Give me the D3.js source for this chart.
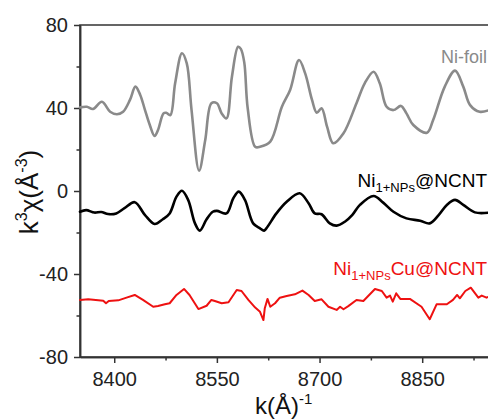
<!DOCTYPE html>
<html>
<head>
<meta charset="utf-8">
<script src="https://cdn.jsdelivr.net/npm/d3@7"></script>
<style>
  html, body { margin: 0; padding: 0; background: #fff; }
  svg { display: block; font-family: "Liberation Sans", Arial, sans-serif; }
</style>
</head>
<body>
<svg id="chart" width="488" height="419"></svg>
<script>
// ---- data (k values on x, k^3 chi on y) ----
const niFoilK = [8350,8360,8369,8382,8394,8404,8413,8423,8431,8438,8445,8452,8459,8464,8472,8476,8482,8489,8499,8506,8513,8524,8533,8542,8550,8557,8564,8572,8581,8585,8590,8595,8606,8613,8628,8645,8657,8670,8679,8689,8696,8703,8711,8720,8735,8754,8766,8779,8788,8798,8808,8819,8827,8837,8857,8866,8883,8898,8910,8920,8934,8948];
const niFoilV = [40.3,40.6,39.5,43,38.2,37,38.2,43.9,50.3,46.3,39,31.8,26.5,29.4,37.4,37.7,36.6,51.9,66.4,61.5,39,9.8,24.6,42.3,42.3,37.4,35,55.1,69.5,68.5,62,40,21.3,21.3,23.8,40.6,48.7,63.1,56.7,43.9,37.7,39.9,31,23,27.8,42.3,51.9,57.5,51.9,40.6,39,41,37.4,31.8,28.1,34.2,50.3,58,50.3,41.4,38.2,39];

const ncntK = [8350,8359,8371,8381,8391,8403,8415,8430,8445,8459,8471,8481,8491,8499,8508,8518,8525,8535,8544,8550,8564,8574,8582,8591,8603,8613,8619,8624,8637,8652,8671,8684,8693,8703,8715,8725,8737,8748,8759,8779,8793,8808,8827,8847,8861,8874,8886,8898,8910,8927,8948];
const ncntV = [-10,-9.2,-10.4,-10.1,-11.1,-10.8,-8.3,-5.4,-11.6,-15.9,-13.6,-10.8,-2.7,0.1,-4.3,-15.6,-19.1,-13.6,-10,-9.6,-10.8,-3.5,-0.3,-4.3,-15.6,-18,-19.1,-17.2,-10.8,-5.2,-1.1,-5.9,-10.8,-11.2,-15.6,-16.7,-14.8,-11.5,-6.7,-2.4,-5.6,-10,-13.2,-14.3,-15.6,-11.6,-6.7,-4.3,-6.7,-10.3,-10.4];

const cuK = [8350,8362,8384,8388,8392,8406,8418,8430,8442,8457,8464,8474,8481,8491,8502,8510,8523,8535,8542,8547,8557,8567,8579,8586,8596,8606,8613,8618,8620,8624,8628,8635,8642,8652,8664,8675,8684,8693,8703,8713,8725,8730,8735,8742,8754,8764,8781,8791,8798,8803,8807,8812,8818,8832,8849,8861,8871,8886,8895,8901,8905,8913,8921,8932,8937,8944,8950];
const cuV = [-52.5,-52.2,-52.9,-54.1,-53,-52.7,-51.4,-50.1,-52.5,-55.8,-55.4,-54.6,-54.1,-50.1,-47.2,-50.1,-56.9,-55.3,-52.5,-53,-54.1,-53.6,-47.7,-48.2,-52.5,-56.2,-58.2,-62.2,-56.5,-52,-55.8,-54.1,-51.4,-50.6,-49.8,-48,-50.1,-53,-52.2,-55.8,-57.3,-55.8,-57,-55.5,-52.5,-53,-47.2,-48.2,-51.4,-50.4,-53.3,-49.3,-52,-52,-55.8,-61.8,-54.6,-54.6,-52.5,-50.1,-51.7,-48.2,-46.6,-51.4,-50.4,-51.4,-50.5];

const yTicks = [-80, -40, 0, 40, 80];
const yMinor = [-60, -20, 20, 60];
const xTicks = [8400, 8550, 8700, 8850];
const xMinor = [8475, 8625, 8775, 8925];

// ---- layout ----
const svg = d3.select("#chart");
const mLeft = 80, mTop = 25, mBottom = 357;
const x = d3.scaleLinear().domain([8350, 8950]).range([mLeft, mLeft + 600 * 0.6844]);
const y = d3.scaleLinear().domain([-80, 80]).range([mBottom, mTop]);
const axisColor = "#333";
const plainFmt = d => String(d);

// frame (top + right borders)
svg.append("rect")
  .attr("x", x.range()[0]).attr("y", mTop)
  .attr("width", x.range()[1] - x.range()[0]).attr("height", mBottom - mTop)
  .attr("fill", "none").attr("stroke", axisColor).attr("stroke-width", 1.5);

function styleAxis(g) {
  g.select(".domain").attr("stroke", axisColor).attr("stroke-width", 1.5);
  g.selectAll(".tick line").attr("stroke", axisColor).attr("stroke-width", 1.5);
  g.selectAll(".tick text").attr("fill", "#222").attr("font-size", 20)
    .attr("font-family", "'Liberation Sans', Arial, sans-serif");
}

svg.append("g").attr("transform", `translate(${mLeft},0)`)
  .call(d3.axisLeft(y).tickValues(yTicks).tickFormat(plainFmt).tickSize(6).tickPadding(6).tickSizeOuter(0))
  .call(styleAxis);
svg.append("g").attr("transform", `translate(${mLeft},0)`)
  .call(d3.axisLeft(y).tickValues(yMinor).tickSize(3.5).tickFormat("").tickSizeOuter(0))
  .call(styleAxis);
svg.append("g").attr("transform", `translate(0,${mBottom})`)
  .call(d3.axisBottom(x).tickValues(xTicks).tickFormat(plainFmt).tickSize(6).tickPadding(9).tickSizeOuter(0))
  .call(styleAxis);
svg.append("g").attr("transform", `translate(0,${mBottom})`)
  .call(d3.axisBottom(x).tickValues(xMinor).tickSize(3.5).tickFormat("").tickSizeOuter(0))
  .call(styleAxis);

// ---- lines ----
function drawLine(ks, vs, color, width, curve) {
  const data = ks.map((k, i) => [k, vs[i]]);
  svg.append("path")
    .datum(data)
    .attr("fill", "none")
    .attr("stroke", color)
    .attr("stroke-width", width)
    .attr("stroke-linejoin", "round")
    .attr("stroke-linecap", "round")
    .attr("d", d3.line().x(d => x(d[0])).y(d => y(d[1])).curve(curve));
}
drawLine(niFoilK, niFoilV, "#8a8a8a", 2.6, d3.curveCatmullRom.alpha(0.5));
drawLine(ncntK, ncntV, "#000", 2.6, d3.curveCatmullRom.alpha(0.5));
drawLine(cuK, cuV, "#ee1111", 2, d3.curveLinear);

// ---- series labels ----
svg.append("text").attr("x", 487).attr("y", 63).attr("font-size", 18)
  .attr("text-anchor", "end").attr("fill", "#8a8a8a").text("Ni-foil");

const l2 = svg.append("text").attr("x", 487).attr("y", 187).attr("font-size", 19)
  .attr("text-anchor", "end").attr("fill", "#000");
l2.append("tspan").text("Ni");
l2.append("tspan").attr("font-size", 13).attr("dy", 5).text("1+NPs");
l2.append("tspan").attr("dy", -5).text("@NCNT");

const l3 = svg.append("text").attr("x", 487).attr("y", 275).attr("font-size", 19)
  .attr("text-anchor", "end").attr("fill", "#ee1111");
l3.append("tspan").text("Ni");
l3.append("tspan").attr("font-size", 13).attr("dy", 5).text("1+NPs");
l3.append("tspan").attr("dy", -5).text("Cu@NCNT");

// ---- axis titles ----
const xt = svg.append("text").attr("x", 255).attr("y", 414).attr("font-size", 24).attr("fill", "#111");
xt.append("tspan").text("k(Å)");
xt.append("tspan").attr("font-size", 15).attr("dy", -10).text("-1");

const yt = svg.append("text")
  .attr("transform", "translate(38,192) rotate(-90)")
  .attr("text-anchor", "middle").attr("font-size", 26).attr("fill", "#111");
yt.append("tspan").text("k");
yt.append("tspan").attr("font-size", 16).attr("dy", -11).text("3");
yt.append("tspan").attr("dy", 11).text("χ(Å");
yt.append("tspan").attr("font-size", 16).attr("dy", -11).text("-3");
yt.append("tspan").attr("dy", 11).text(")");
</script>
</body>
</html>
